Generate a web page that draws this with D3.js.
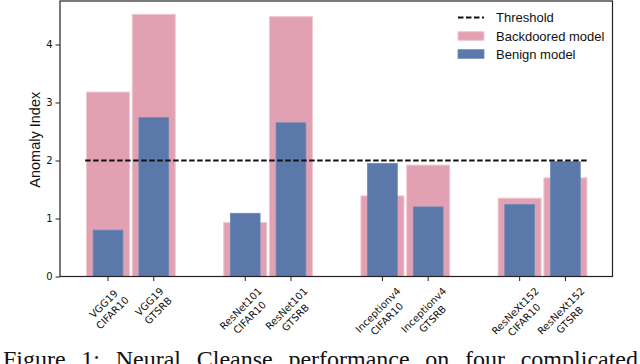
<!DOCTYPE html>
<html>
<head>
<meta charset="utf-8">
<script src="https://cdn.jsdelivr.net/npm/d3@7"></script>
<style>
  body { margin: 0; background: #fff; }
  svg { display: block; }
</style>
</head>
<body>
<script>
const w = 640; // width
const h = 364; // height

// data
const models = ["VGG19", "VGG19", "ResNet101", "ResNet101", "Inceptionv4", "Inceptionv4", "ResNeXt152", "ResNeXt152"];
const datasets = ["CIFAR10", "GTSRB", "CIFAR10", "GTSRB", "CIFAR10", "GTSRB", "CIFAR10", "GTSRB"];
const positions = [0, 1, 3, 4, 6, 7, 9, 10];
const backdoored = [3.18, 4.52, 0.93, 4.48, 1.39, 1.92, 1.35, 1.70];
const benign = [0.80, 2.74, 1.09, 2.65, 1.95, 1.20, 1.24, 1.98];
const threshold = 2;
const yTicks = [0, 1, 2, 3, 4];
const legendLabels = ["Threshold", "Backdoored model", "Benign model"];
const caption = "Figure 1: Neural Cleanse performance on four complicated";

const pink = "#e2a1b3";
const blue = "#5a78aa";

let svg = d3.select("body")
    .append("svg")
    .attr("width", w)
    .attr("height", h);

// plot area
const pLeft = 60, pRight = 612.5, pTop = 1, pBottom = 276.5;

let x = d3.scaleLinear()
    .domain([-1.05, 11.03])
    .range([pLeft, pRight]);

let y = d3.scaleLinear()
    .domain([0, 4.75])
    .range([pBottom, pTop]);

const unit = x(1) - x(0);

// backdoored bars (wide, behind)
svg.selectAll("rect.backdoor")
    .data(backdoored)
    .enter()
    .append("rect")
    .attr("class", "backdoor")
    .attr("x", (d, i) => x(positions[i]) - 0.47 * unit)
    .attr("width", 0.94 * unit)
    .attr("y", (d) => y(d))
    .attr("height", (d) => y(0) - y(d))
    .attr("fill", pink)
    .attr("stroke", "#efc6d1")
    .attr("stroke-width", 1);

// benign bars (narrow, in front)
svg.selectAll("rect.benign")
    .data(benign)
    .enter()
    .append("rect")
    .attr("class", "benign")
    .attr("x", (d, i) => x(positions[i]) - 0.325 * unit)
    .attr("width", 0.65 * unit)
    .attr("y", (d) => y(d))
    .attr("height", (d) => y(0) - y(d))
    .attr("fill", blue)
    .attr("stroke", "#6c88b6")
    .attr("stroke-width", 0.8);

// threshold line
svg.append("line")
    .attr("x1", x(-0.5))
    .attr("x2", x(10.5))
    .attr("y1", y(threshold))
    .attr("y2", y(threshold))
    .attr("stroke", "#111")
    .attr("stroke-width", 2)
    .attr("stroke-dasharray", "5.5,2.5");

// frame
svg.append("rect")
    .attr("x", pLeft)
    .attr("y", pTop)
    .attr("width", pRight - pLeft)
    .attr("height", pBottom - pTop)
    .attr("fill", "none")
    .attr("stroke", "#222")
    .attr("stroke-width", 1.2);

// y axis
let axisY = d3.axisLeft(y)
    .tickValues(yTicks)
    .tickSize(4.5)
    .tickPadding(3)
    .tickFormat(d3.format("d"));
let gY = svg.append("g")
    .attr("transform", `translate(${pLeft},0)`)
    .call(axisY);
gY.select(".domain").remove();
gY.selectAll("line").attr("stroke", "#222");
gY.selectAll("text")
    .attr("font-family", "DejaVu Sans")
    .attr("font-size", 10)
    .attr("fill", "#111");

// x ticks
svg.selectAll("line.xtick")
    .data(positions)
    .enter()
    .append("line")
    .attr("class", "xtick")
    .attr("x1", (d) => x(d))
    .attr("x2", (d) => x(d))
    .attr("y1", pBottom)
    .attr("y2", pBottom + 4.5)
    .attr("stroke", "#222");

// x tick labels, rotated two-line
positions.forEach((p, i) => {
    let g = svg.append("g");
    let t = g.append("text")
        .attr("font-family", "DejaVu Sans")
        .attr("font-size", 10)
        .attr("fill", "#111")
        .attr("text-anchor", "middle");
    t.append("tspan").attr("x", 0).attr("y", 0).text(models[i]);
    t.append("tspan").attr("x", 0).attr("y", 12.5).text(datasets[i]);
    g.attr("transform", "rotate(-45)");
    let bb = g.node().getBoundingClientRect();
    let cx = bb.left + bb.width / 2;
    g.attr("transform", `translate(${x(p) - cx},${pBottom + 9 - bb.top}) rotate(-45)`);
});

// y label
svg.append("text")
    .attr("transform", `translate(40,${(pTop + pBottom) / 2 + 1}) rotate(-90)`)
    .attr("text-anchor", "middle")
    .attr("font-family", "Liberation Sans")
    .attr("font-size", 14.5)
    .attr("fill", "#111")
    .text("Anomaly Index");

// legend
const lgX = 458, lgW = 26, lgText = 496;
const lgY = [17.5, 36, 54];
let legend = svg.append("g");
legend.append("line")
    .attr("x1", lgX).attr("x2", lgX + lgW)
    .attr("y1", lgY[0]).attr("y2", lgY[0])
    .attr("stroke", "#111")
    .attr("stroke-width", 2)
    .attr("stroke-dasharray", "5.5,2.5");
legend.append("rect")
    .attr("x", lgX).attr("y", lgY[1] - 4.3)
    .attr("width", lgW).attr("height", 8.6)
    .attr("fill", pink).attr("stroke", "#efc6d1");
legend.append("rect")
    .attr("x", lgX).attr("y", lgY[2] - 4.3)
    .attr("width", lgW).attr("height", 8.6)
    .attr("fill", blue).attr("stroke", "#6c88b6").attr("stroke-width", 0.8);
legend.selectAll("text")
    .data(legendLabels)
    .enter()
    .append("text")
    .attr("x", lgText)
    .attr("y", (d, i) => lgY[i])
    .attr("dy", "0.35em")
    .attr("font-family", "Liberation Sans")
    .attr("font-size", 13)
    .attr("fill", "#111")
    .text((d) => d);

// caption, justified word by word (cut by the bottom edge, as in the figure)
const words = caption.split(" ");
const capX0 = 3, capX1 = 638, capY = 366.5;
let wordNodes = words.map((wd) => svg.append("text")
    .attr("y", capY)
    .attr("font-family", "Liberation Serif")
    .attr("font-size", 24)
    .attr("fill", "#111")
    .text(wd));
let widths = wordNodes.map((n) => n.node().getComputedTextLength());
let gap = (capX1 - capX0 - d3.sum(widths)) / (words.length - 1);
let cur = capX0;
wordNodes.forEach((n, i) => {
    n.attr("x", cur);
    cur += widths[i] + gap;
});
</script>
</body>
</html>
